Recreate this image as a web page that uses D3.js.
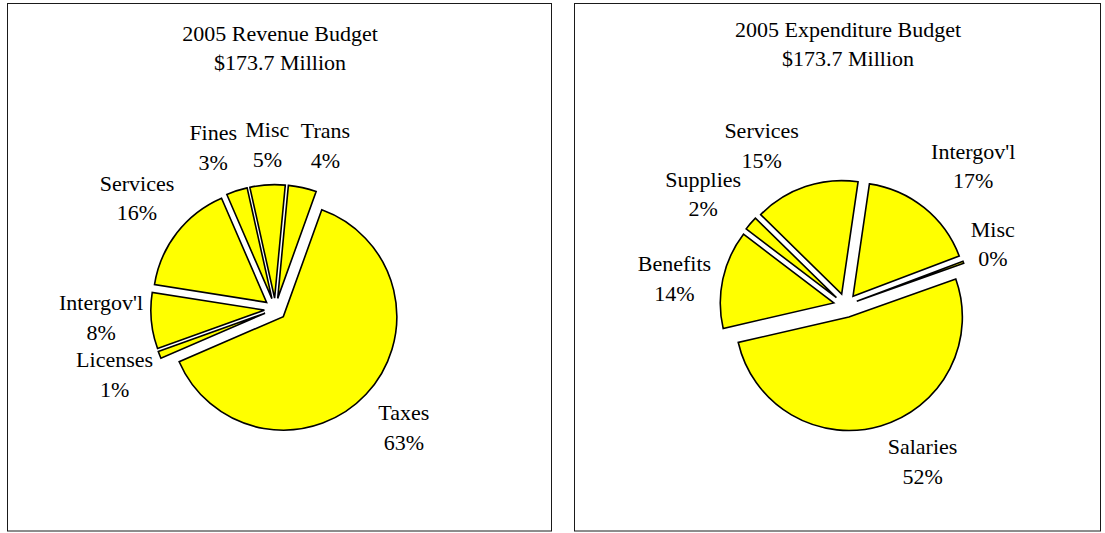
<!DOCTYPE html>
<html>
<head>
<meta charset="utf-8">
<script src="https://cdn.jsdelivr.net/npm/d3@7"></script>
<style>
  html, body { margin: 0; padding: 0; background: #fff; }
  svg { display: block; }
  text { font-family: "Liberation Serif", "Times New Roman", Times, serif; font-size: 22px; fill: #000; }
</style>
</head>
<body>
<svg id="chart" width="1105" height="533"></svg>
<script>
// 2005 revenue budget, share of $173.7 million by source
const revenueCategories = ["Taxes", "Licenses", "Intergov'l", "Services", "Fines", "Misc", "Trans"];
const revenueValues = [63, 1, 8, 16, 3, 5, 4];

// 2005 expenditure budget, share of $173.7 million by use
const expenditureCategories = ["Salaries", "Benefits", "Supplies", "Services", "Intergov'l", "Misc"];
const expenditureValues = [52, 14, 2, 15, 17, 0.3];

const revenueTitle = ["2005 Revenue Budget", "$173.7 Million"];
const expenditureTitle = ["2005 Expenditure Budget", "$173.7 Million"];

// Layout for each panel: frame, pie centre, rotation, explosion and label tweaks
const panels = [
  {
    categories: revenueCategories, values: revenueValues, title: revenueTitle,
    frame: { x: 7.5, y: 3.5, w: 544, h: 527.5 },
    titleX: 280, titleY: 40.5,
    cx: 275.3, cy: 309.1, radius: 113.5, explode: 11, startDeg: 19.8,
    labelRadius: 175,
    labelNudge: [[1, -1.5], [2, 1], [0, -8], [0, -4], [-8, 5], [3, 10], [12, 7]]
  },
  {
    categories: expenditureCategories, values: expenditureValues, title: expenditureTitle,
    frame: { x: 574.5, y: 3.5, w: 526, h: 527.5 },
    titleX: 848, titleY: 36.5,
    cx: 845.5, cy: 305.5, radius: 113.5, explode: 12, startDeg: 70.4,
    labelRadius: 175,
    labelNudge: [[28, -12], [0, 10], [-10, 3], [-28, 6], [18, -3], [-17, -1]]
  }
];

const svg = d3.select("#chart");
const lineGap = 29.5;
const rad = Math.PI / 180;

panels.forEach(p => {
  const g = svg.append("g");

  g.append("rect")
    .attr("x", p.frame.x).attr("y", p.frame.y)
    .attr("width", p.frame.w).attr("height", p.frame.h)
    .attr("fill", "none").attr("stroke", "#1a1a1a").attr("stroke-width", 1);

  const title = g.append("text").attr("text-anchor", "middle");
  p.title.forEach((line, i) => {
    title.append("tspan").attr("x", p.titleX).attr("y", p.titleY + i * lineGap).text(line);
  });

  const data = p.categories.map((c, i) => ({ name: c, value: p.values[i] }));
  const total = d3.sum(p.values);
  const start = p.startDeg * rad;

  const pie = d3.pie().sort(null).value(d => d.value)
    .startAngle(start).endAngle(start + 2 * Math.PI);
  const arcs = pie(data);

  const arc = d3.arc().innerRadius(0).outerRadius(p.radius);

  const slices = g.append("g").attr("transform", `translate(${p.cx},${p.cy})`);

  slices.selectAll("path")
    .data(arcs)
    .join("path")
    .attr("d", arc)
    .attr("transform", d => {
      const mid = (d.startAngle + d.endAngle) / 2;
      return `translate(${p.explode * Math.sin(mid)},${-p.explode * Math.cos(mid)})`;
    })
    .attr("fill", "#ffff00")
    .attr("stroke", "#000")
    .attr("stroke-width", 1.6)
    .attr("stroke-linejoin", "miter");

  const labels = g.append("g");
  arcs.forEach((d, i) => {
    const mid = (d.startAngle + d.endAngle) / 2;
    const nudge = p.labelNudge[i];
    const lx = p.cx + p.labelRadius * Math.sin(mid) + nudge[0];
    const ly = p.cy - p.labelRadius * Math.cos(mid) + nudge[1];
    const t = labels.append("text").attr("text-anchor", "middle");
    t.append("tspan").attr("x", lx).attr("y", ly - lineGap / 2 + 7.5).text(d.data.name);
    t.append("tspan").attr("x", lx).attr("y", ly + lineGap / 2 + 7.5)
      .text(Math.round(d.data.value / total * 100) + "%");
  });
});
</script>
</body>
</html>
